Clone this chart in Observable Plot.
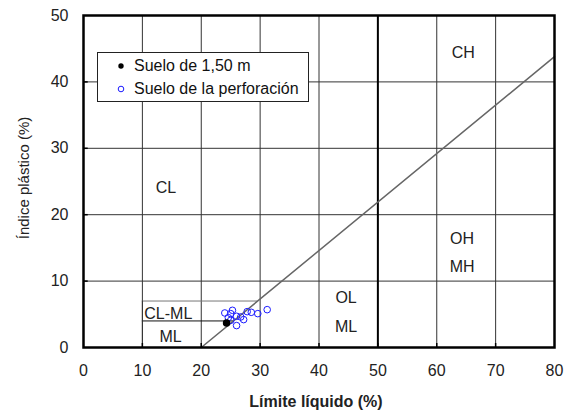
<!DOCTYPE html>
<html>
<head>
<meta charset="utf-8">
<script src="https://cdn.jsdelivr.net/npm/d3@7"></script>
<script src="https://cdn.jsdelivr.net/npm/@observablehq/plot@0.6"></script>
<style>
  body { margin: 0; background: #fff; font-family: "Liberation Sans", Arial, sans-serif; }
  #wrap { position: relative; width: 565px; height: 412px; }
  #legend { position: absolute; left: 97px; top: 52px; width: 212px; height: 50px; border: 1px solid #222; background: #fff; box-sizing: border-box; font-size: 16px; color: #111; }
  #legend .row { position: absolute; left: 0; display: flex; align-items: center; line-height: 18px; }
  #legend svg { margin-left: 19px; margin-right: 9px; }
</style>
</head>
<body>
<div id="wrap"></div>
<script>
// Data
const xTicks = [0, 10, 20, 30, 40, 50, 60, 70, 80];
const yTicks = [0, 10, 20, 30, 40, 50];
const gridX = [10, 20, 30, 40, 60, 70];
const gridY = [10, 20, 30, 40];
const boundaryLL = [50];
// A-line end points
const aLineLL = [20, 80];
const aLinePI = [0, 43.8];
// CL-ML band bounds (PI) and their extent in LL (from LL=10 to A-line)
const bandPI = [4, 7];
const bandLL1 = [10, 10];
const bandLL2 = [25.5, 29.6];
// Zone labels
const zoneNames = ["CH", "CL", "OH", "MH", "OL", "ML", "CL-ML", "ML"];
const zoneLL = [64.5, 14, 64.3, 64.3, 44.6, 44.6, 14.4, 14.8];
const zonePI = [44.3, 24, 16.4, 12.2, 7.4, 3.1, 5.0, 1.6];
// Suelo de la perforación
const perfLL = [24.0, 25.3, 25.0, 26.0, 26.7, 27.2, 26.0, 27.8, 28.5, 29.6, 31.2, 25.0, 24.6];
const perfPI = [5.2, 5.6, 5.1, 4.7, 4.6, 4.2, 3.3, 5.4, 5.3, 5.1, 5.7, 4.1, 4.5];
// Suelo de 1,50 m
const s150LL = [24.3];
const s150PI = [3.7];

const perf = perfLL.map((x, i) => ({x, y: perfPI[i]}));
const s150 = s150LL.map((x, i) => ({x, y: s150PI[i]}));
const zones = zoneNames.map((t, i) => ({t, x: zoneLL[i], y: zonePI[i]}));
const aLine = aLineLL.map((x, i) => ({x, y: aLinePI[i]}));
const bands = bandPI.map((y, i) => ({y, x1: bandLL1[i], x2: bandLL2[i]}));

const chart = Plot.plot({
  width: 565,
  height: 412,
  marginLeft: 83,
  marginRight: 11,
  marginTop: 15,
  marginBottom: 65,
  style: { fontFamily: "Liberation Sans, Arial, sans-serif", fontSize: "16px", color: "#222", background: "#fff" },
  x: { type: "linear", domain: [0, 80] },
  y: { type: "linear", domain: [0, 50] },
  marks: [
    Plot.ruleX(gridX, { stroke: "#333", strokeWidth: 1 }),
    Plot.ruleY(gridY, { stroke: "#333", strokeWidth: 1 }),
    Plot.ruleX(boundaryLL, { stroke: "#000", strokeWidth: 2 }),
    Plot.ruleY(bands, { y: "y", x1: "x1", x2: "x2", stroke: (d, i) => i === 0 ? "#111" : "#777", strokeWidth: 1 }),
    Plot.ruleX([10], { y1: 0, y2: 7, stroke: "#333" }),
    Plot.line(aLine, { x: "x", y: "y", stroke: "#666", strokeWidth: 1.5 }),
    Plot.text(zones, { x: "x", y: "y", text: "t", fontSize: 16, fill: "#222" }),
    Plot.dot(perf, { x: "x", y: "y", r: 3.3, stroke: "#1a1aff", strokeWidth: 1, fill: "none" }),
    Plot.dot(s150, { x: "x", y: "y", r: 3, fill: "#000", stroke: "#000" }),
    Plot.axisX(xTicks, { tickSize: 0, tickPadding: 17, label: null, fontSize: 16 }),
    Plot.axisY(yTicks, { tickSize: 0, tickPadding: 15, label: null, fontSize: 16 }),
    Plot.ruleX(xTicks.slice(1, -1), { y1: 0, y2: 0.6, stroke: "#000", strokeWidth: 1.5 }),
    Plot.ruleY(yTicks.slice(1, -1), { x1: 0, x2: 0.8, stroke: "#000", strokeWidth: 1.5 }),
    Plot.frame({ stroke: "#000", strokeWidth: 2.5 })
  ]
});

const wrap = document.getElementById("wrap");
wrap.appendChild(chart);

// axis titles as SVG text
const svg = d3.select(chart.tagName.toLowerCase() === "svg" ? chart : chart.querySelector("svg"));
svg.append("text").attr("x", 316).attr("y", 407).attr("text-anchor", "middle")
  .attr("font-size", 16).attr("font-weight", "bold").attr("fill", "#222").text("Límite líquido (%)");
svg.append("text").attr("transform", "translate(29,178) rotate(-90)").attr("text-anchor", "middle")
  .attr("font-size", 15).attr("fill", "#222").text("Índice plástico (%)");

// legend
const legendItems = ["Suelo de 1,50 m", "Suelo de la perforación"];
const lg = document.createElement("div");
lg.id = "legend";
lg.innerHTML = `
  <div class="row" style="top:4px"><svg width="8" height="8"><circle cx="4" cy="4" r="2.7" fill="#000"/></svg>${legendItems[0]}</div>
  <div class="row" style="top:27px"><svg width="8" height="8"><circle cx="4" cy="4" r="2.8" fill="none" stroke="#1a1aff"/></svg>${legendItems[1]}</div>`;
wrap.appendChild(lg);
</script>
</body>
</html>
